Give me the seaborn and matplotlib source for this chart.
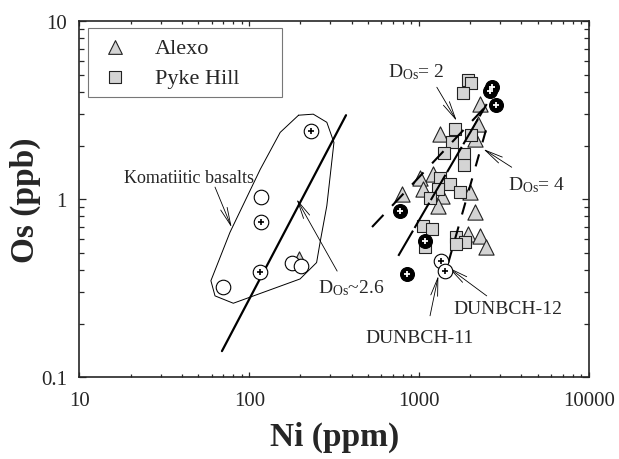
import numpy as np
import pandas as pd
import matplotlib
matplotlib.use("Agg")
import matplotlib.pyplot as plt
import seaborn as sns

# ---------------- data ----------------
alexo_ni = [2285, 2234, 1327, 2133, 1213, 1012, 1059, 791, 1358, 1297, 1995, 2133, 1950, 2285, 2466, 196]
alexo_os = [3.42, 2.64, 2.32, 2.17, 1.38, 1.32, 1.14, 1.07, 1.04, 0.917, 1.09, 0.842, 0.635, 0.622, 0.536, 0.46]

pyke_ni = [1950, 2020, 1820, 1625, 2020, 1556, 1406, 1845, 1845, 1327, 1520, 1297, 1159, 1742,
           1059, 1186, 1084, 1648, 1862, 1650]
pyke_os = [4.68, 4.49, 3.97, 2.47, 2.29, 2.08, 1.81, 1.79, 1.55, 1.32, 1.21, 1.14, 1.02, 1.09,
           0.708, 0.678, 0.536, 0.610, 0.575, 0.558]

filled_ni = [2680, 2620, 2825, 773, 1084, 845]
filled_os = [4.25, 4.05, 3.39, 0.859, 0.583, 0.379]

openplus_ni = [231, 117, 116, 1346, 1422]
openplus_os = [2.42, 0.74, 0.39, 0.450, 0.395]

opencirc_ni = [117, 70, 178, 201]
opencirc_os = [1.03, 0.32, 0.44, 0.42]

poly_ni = [195, 238, 286, 315, 286, 261, 249, 199, 80.5, 62.8, 59.4, 76.9, 116, 152, 195]
poly_os = [2.96, 3.0, 2.70, 2.08, 0.917, 0.571, 0.44, 0.356, 0.26, 0.286, 0.348, 0.65, 1.47, 2.37, 2.96]

d26_ni = [69, 371]
d26_os = [0.14, 2.96]
lineA_ni = [754, 2500]
lineA_os = [0.48, 3.42]
lineB_ni = [528, 2389]
lineB_os = [0.697, 3.21]
lineC_ni = [1486, 2500]
lineC_os = [0.44, 2.53]

x_ticks = [10, 100, 1000, 10000]
x_ticklabels = ["10", "100", "1000", "10000"]
y_ticks = [0.1, 1, 10]
y_ticklabels = ["0.1", "1", "10"]

# ---------------- style ----------------
sns.set_style("ticks")
plt.rcParams["font.family"] = ["Liberation Serif", "DejaVu Serif"]
plt.rcParams["mathtext.fontset"] = "custom"
plt.rcParams["mathtext.rm"] = "Liberation Serif"
plt.rcParams["mathtext.it"] = "Liberation Serif:italic"
plt.rcParams["mathtext.bf"] = "Liberation Serif:bold"

fig = plt.figure(figsize=(6.19, 4.60), dpi=100)
ax = fig.add_axes([0.1284, 0.178, 0.8231, 0.774])
ax.set_xscale("log")
ax.set_yscale("log")

gray = "#d4d4d4"
edge = "#222222"

# polygon and lines
ax.plot(poly_ni, poly_os, color="black", lw=0.7, zorder=1)
ax.plot(d26_ni, d26_os, color="black", lw=1.6, zorder=2)
ax.plot(lineA_ni, lineA_os, color="black", lw=1.5, dashes=(14, 1.5), zorder=4)
ax.plot(lineB_ni, lineB_os, color="black", lw=1.5, dashes=(8, 6), zorder=4)
ax.plot(lineC_ni, lineC_os, color="black", lw=1.5, dashes=(6, 6), zorder=4)

df_a = pd.DataFrame({"Ni": alexo_ni, "Os": alexo_os})
df_p = pd.DataFrame({"Ni": pyke_ni, "Os": pyke_os})
df_f = pd.DataFrame({"Ni": filled_ni, "Os": filled_os})
df_op = pd.DataFrame({"Ni": openplus_ni, "Os": openplus_os})
df_oc = pd.DataFrame({"Ni": opencirc_ni, "Os": opencirc_os})

sns.scatterplot(data=df_a, x="Ni", y="Os", marker="^", s=120, color=gray,
                edgecolor=edge, linewidth=0.8, ax=ax, zorder=3, label="Alexo")
sns.scatterplot(data=df_p, x="Ni", y="Os", marker="s", s=85, color=gray,
                edgecolor=edge, linewidth=0.8, ax=ax, zorder=3, label="Pyke Hill")
sns.scatterplot(data=df_oc, x="Ni", y="Os", marker="o", s=110, color="white",
                edgecolor="black", linewidth=0.8, ax=ax, zorder=5, legend=False)
sns.scatterplot(data=df_op, x="Ni", y="Os", marker="o", s=110, color="white",
                edgecolor="black", linewidth=0.8, ax=ax, zorder=5, legend=False)
sns.scatterplot(data=df_op, x="Ni", y="Os", marker="+", s=22, color="black",
                linewidth=1.2, ax=ax, zorder=6, legend=False)
sns.scatterplot(data=df_f, x="Ni", y="Os", marker="o", s=100, color="black",
                edgecolor="black", linewidth=0.8, ax=ax, zorder=5, legend=False)
sns.scatterplot(data=df_f, x="Ni", y="Os", marker="+", s=22, color="white",
                linewidth=1.3, ax=ax, zorder=6, legend=False)

# annotations
arrow = dict(arrowstyle="->,head_length=1.3,head_width=0.25", lw=0.6, color="black",
             shrinkA=0, shrinkB=0)
ax.text(18.3, 1.33, "Komatiitic basalts", fontsize=13, ha="left", va="center")
ax.annotate("", xy=(78.7, 0.693), xytext=(62.8, 1.168), arrowprops=arrow)

ax.text(254, 0.321, r"D$_{\rm Os}$~2.6", fontsize=14, ha="left", va="center")
ax.annotate("", xy=(190, 1.0), xytext=(329, 0.394), arrowprops=arrow)

ax.text(656, 5.24, r"D$_{\rm Os}$= 2", fontsize=14, ha="left", va="center")
ax.annotate("", xy=(1664, 2.75), xytext=(1271, 4.25), arrowprops=arrow)

ax.text(3350, 1.21, r"D$_{\rm Os}$= 4", fontsize=14, ha="left", va="center")
ax.annotate("", xy=(2389, 1.91), xytext=(3508, 1.51), arrowprops=arrow)

ax.text(1585, 0.244, "DUNBCH-12", fontsize=14, ha="left", va="center")
ax.annotate("", xy=(1486, 0.413), xytext=(2500, 0.286), arrowprops=arrow)

ax.text(480, 0.168, "DUNBCH-11", fontsize=14, ha="left", va="center")
ax.annotate("", xy=(1297, 0.371), xytext=(1159, 0.221), arrowprops=arrow)

# axes
ax.set_xlim(10, 10000)
ax.set_ylim(0.1, 10)
ax.set_xticks(x_ticks)
ax.set_xticklabels(x_ticklabels)
ax.set_yticks(y_ticks)
ax.set_yticklabels(y_ticklabels)
ax.tick_params(axis="both", which="both", direction="in", top=True, right=True,
               labelsize=15, width=0.9)
ax.tick_params(axis="x", which="major", length=3.5, pad=10)
ax.tick_params(axis="x", which="minor", length=2.5)
ax.tick_params(axis="y", which="major", length=5, pad=9)
ax.tick_params(axis="y", which="minor", length=3.5)
for sp in ax.spines.values():
    sp.set_linewidth(1.2)

ax.set_xlabel("Ni (ppm)", fontsize=24, fontweight="bold", labelpad=8)
ax.set_ylabel("Os (ppb)", fontsize=24, fontweight="bold", labelpad=0)

leg = ax.legend(loc="upper left", bbox_to_anchor=(0.0167, 0.786, 0.381, 0.194),
                mode="expand", borderaxespad=0,
                fontsize=16, frameon=True, fancybox=False, edgecolor="#555555",
                handlelength=1.6, handletextpad=1.0, borderpad=0.4,
                labelspacing=0.45, markerscale=0.9)
leg.get_frame().set_linewidth(0.8)

fig.savefig("out.png", dpi=100)
